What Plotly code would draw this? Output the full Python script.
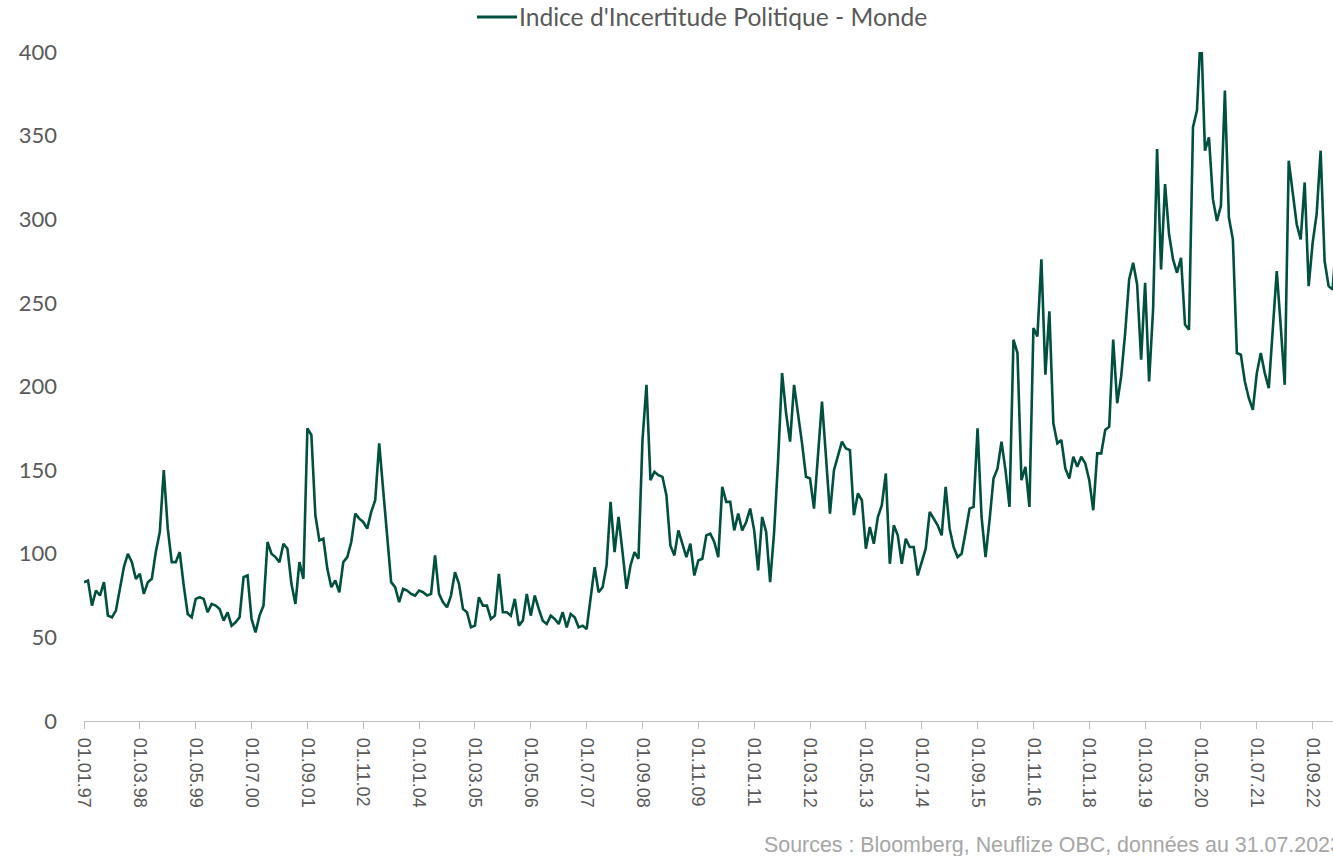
import plotly.graph_objects as go

# Monthly index values, starting January 1997
values = [
    83, 84, 69, 78, 75, 83, 63, 62, 66, 78, 92, 100,      # 1997
    95, 85, 88, 76, 83, 85, 101, 113, 150, 115, 95, 95,   # 1998
    101, 81, 64, 62, 73, 74, 73, 65, 70, 69, 67, 60,      # 1999
    65, 57, 59, 62, 86, 87, 61, 53, 63, 69, 107, 100,     # 2000
    98, 95, 106, 103, 82, 70, 95, 85, 175, 171, 123, 108, # 2001
    109, 91, 80, 84, 77, 95, 98, 107, 124, 121, 119, 115, # 2002
    125, 132, 166, 138, 108, 83, 80, 71, 79, 78, 76, 75,  # 2003
    78, 77, 75, 76, 99, 76, 71, 68, 75, 89, 82, 67,       # 2004
    65, 56, 57, 74, 69, 69, 61, 63, 88, 65, 65, 63,       # 2005
    73, 57, 60, 76, 63, 75, 67, 60, 58, 63, 61, 58,       # 2006
    65, 56, 64, 62, 56, 57, 55, 74, 92, 77, 80, 93,       # 2007
    131, 101, 122, 101, 79, 93, 101, 97, 168, 201, 144, 149,  # 2008
    147, 146, 135, 105, 99, 114, 106, 98, 106, 87, 96, 97,    # 2009
    111, 112, 107, 98, 140, 131, 131, 114, 124, 114, 119, 127, # 2010
    114, 90, 122, 113, 83, 113, 156, 208, 184, 167, 201, 185,  # 2011
    166, 146, 145, 127, 158, 191, 158, 124, 150, 158, 167, 163, # 2012
    162, 123, 136, 132, 103, 116, 106, 122, 129, 148, 94, 117,  # 2013
    111, 94, 109, 104, 104, 87, 95, 103, 125, 121, 117, 111,    # 2014
    140, 115, 104, 98, 100, 113, 127, 128, 175, 122, 98, 120,   # 2015
    145, 151, 167, 150, 128, 228, 220, 144, 152, 128, 235, 230, # 2016
    276, 207, 245, 178, 166, 168, 151, 145, 158, 152, 158, 154, # 2017
    144, 126, 160, 160, 174, 176, 228, 190, 206, 232, 264, 274, # 2018
    261, 216, 262, 203, 246, 342, 270, 321, 291, 276, 268, 277, # 2019
    237, 234, 355, 365, 415, 341, 349, 312, 299, 308, 377, 301, # 2020
    288, 220, 219, 203, 193, 186, 208, 220, 208, 199, 234, 269, # 2021
    236, 201, 335, 316, 297, 288, 322, 260, 286, 303, 341, 275, # 2022
    260, 258, 290,                                              # 2023
]

series_name = "Indice d'Incertitude Politique - Monde"
source_text = "Sources : Bloomberg, Neuflize OBC, données au 31.07.2023"

# Month labels (dd.mm.yy) for each point
month_labels = []
for i in range(len(values)):
    y = 1997 + i // 12
    m = i % 12 + 1
    month_labels.append(f"01.{m:02d}.{y % 100:02d}")

tick_step = 14
tick_positions = list(range(0, len(values), tick_step))
tick_labels = [month_labels[i] for i in tick_positions]

y_ticks = [0, 50, 100, 150, 200, 250, 300, 350, 400]

line_color = "#00503F"
text_grey = "#595959"

W, H = 1333, 856
L, R, T, B = 84, 0, 52, 135
plot_w = W - L - R
plot_h = H - T - B


def px_x(px):
    return (px - L) / plot_w


def px_y(py):
    return (H - B - py) / plot_h


fig = go.Figure()
fig.add_trace(go.Scatter(
    x=list(range(len(values))),
    y=values,
    mode="lines",
    name=series_name,
    line=dict(color=line_color, width=2.6),
    showlegend=False,
))

fig.update_layout(
    width=W,
    height=H,
    margin=dict(l=L, r=R, t=T, b=B, autoexpand=False),
    plot_bgcolor="white",
    paper_bgcolor="white",
    showlegend=False,
    xaxis=dict(
        range=[0, 313.1],
        tickmode="array",
        tickvals=tick_positions,
        ticktext=tick_labels,
        tickangle=90,
        ticks="outside",
        ticklen=7,
        tickcolor="#BFBFBF",
        showline=True,
        linecolor="#BFBFBF",
        linewidth=1.3,
        showgrid=False,
        zeroline=False,
        automargin=False,
        ticklabelstandoff=5,
        tickfont=dict(family="Liberation Sans, Arial, sans-serif", size=18, color=text_grey),
    ),
    yaxis=dict(
        range=[0, 400],
        tickmode="array",
        tickvals=y_ticks,
        ticks="",
        showgrid=False,
        zeroline=False,
        showline=False,
        automargin=False,
        ticklabelstandoff=26,
        tickfont=dict(family="Lato, Open Sans, sans-serif", size=22, color=text_grey),
    ),
    shapes=[dict(
        type="line", xref="paper", yref="paper",
        x0=px_x(477), x1=px_x(517), y0=px_y(17), y1=px_y(17),
        line=dict(color=line_color, width=3),
    )],
    annotations=[
        dict(
            text=series_name,
            xref="paper", yref="paper",
            x=px_x(517), xanchor="left",
            y=px_y(17), yanchor="middle",
            showarrow=False,
            font=dict(family="Lato, Open Sans, sans-serif", size=24.6, color=text_grey),
        ),
        dict(
            text=source_text,
            xref="paper", yref="paper",
            x=px_x(762), xanchor="left",
            y=px_y(845), yanchor="middle",
            showarrow=False,
            font=dict(family="Liberation Sans Narrow, Arial Narrow, Liberation Sans, sans-serif",
                      size=21.4, color="#A6A6A6"),
        ),
    ],
)

# Remove the default page margin so the figure fills the browser window exactly
fig.write_html(
    "out.html",
    config={"displayModeBar": False},
    post_script="document.body.style.margin='0';document.body.style.overflow='hidden';",
)
